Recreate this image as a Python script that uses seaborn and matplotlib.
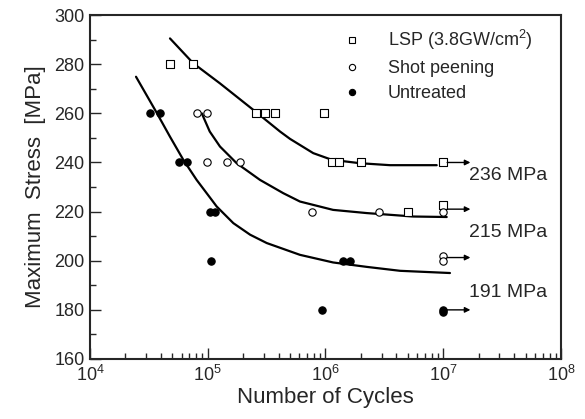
import numpy as np
import pandas as pd
import seaborn as sns
import matplotlib.pyplot as plt
from matplotlib.lines import Line2D
from matplotlib.ticker import LogLocator, MultipleLocator

# measured fatigue data (cycles, stress in MPa)
lsp_cycles = [4.8e4, 7.5e4, 2.55e5, 3.06e5, 3.72e5, 9.8e5, 1.13e6, 1.29e6, 2.0e6, 1e7, 5.05e6, 1e7]
lsp_stress = [280, 280, 260, 260, 260, 260, 240, 240, 240, 240, 220, 222.5]

shot_cycles = [8.1e4, 9.8e4, 9.8e4, 1.45e5, 1.88e5, 7.7e5, 2.85e6, 1e7, 1e7, 1e7]
shot_stress = [260, 260, 240, 240, 240, 220, 220, 220, 202, 200]

untr_cycles = [3.25e4, 3.93e4, 5.7e4, 6.7e4, 1.04e5, 1.15e5, 1.06e5, 1.42e6, 1.61e6, 9.3e5, 1e7, 1e7]
untr_stress = [260, 260, 240, 240, 220, 220, 200, 200, 200, 180, 180, 179]

# fitted S-N curves
lsp_fit_cycles = [4.78e4, 7.53e4, 1.27e5, 2.44e5, 4.11e5, 5.0e5, 7.87e5, 1.13e6, 1.96e6,
                  3.53e6, 8.8e6]
lsp_fit_stress = [290.5, 280.4, 272.2, 261.4, 252.6, 249.6, 243.8, 241.1, 239.7,
                  238.9, 238.9]

shot_fit_cycles = [8.9e4, 1.04e5, 1.27e5, 1.76e5, 2.78e5, 4.38e5, 6.07e5, 1.16e6, 2.24e6,
                   5.57e6, 1.07e7]
shot_fit_stress = [260.0, 252.6, 246.5, 239.7, 232.9, 227.5, 224.1, 220.7, 219.4,
                   218.0, 217.8]

untr_fit_cycles = [2.46e4, 3.64e4, 4.78e4, 6.2e4, 8.05e4, 1.08e5, 1.19e5, 1.65e5, 2.29e5,
                   3.17e5, 6.07e5, 1.16e6, 2.24e6, 4.3e6, 1.14e7]
untr_fit_stress = [274.9, 260.7, 250.5, 241.1, 232.9, 224.8, 222.1, 215.3, 210.6,
                   207.2, 202.4, 199.3, 197.5, 195.9, 195.0]

# run-outs at 1e7 cycles (arrows) and endurance limits
runout_stress = [240, 221, 201.3, 180]
limit_labels = ["236 MPa", "215 MPa", "191 MPa"]
limit_label_y = [234.7, 211.4, 187]

sns.set_style("ticks")
plt.rcParams.update({
    "font.family": ["Liberation Sans", "DejaVu Sans"],
    "mathtext.fontset": "custom",
    "mathtext.rm": "Liberation Sans",
    "mathtext.it": "Liberation Sans",
    "mathtext.bf": "Liberation Sans",
})

fig = plt.figure(figsize=(5.85, 4.19), dpi=100)
ax = fig.add_axes([0.1538, 0.1432, 0.8052, 0.8208])

points = [
    (lsp_cycles, lsp_stress, "s", "white"),
    (shot_cycles, shot_stress, "o", "white"),
    (untr_cycles, untr_stress, "o", "black"),
]
for xs, ys, m, fc in points:
    sns.scatterplot(x=xs, y=ys, marker=m, s=28, facecolor=fc, edgecolor="black",
                    linewidth=0.8, ax=ax, zorder=3)

for xs, ys in [(lsp_fit_cycles, lsp_fit_stress),
               (shot_fit_cycles, shot_fit_stress),
               (untr_fit_cycles, untr_fit_stress)]:
    df = pd.DataFrame({"n": xs, "s": ys})
    sns.lineplot(data=df, x="n", y="s", color="black", linewidth=1.6, sort=False,
                 estimator=None, ax=ax, zorder=2)

for s in runout_stress:
    ax.annotate("", xy=(1.7e7, s), xytext=(1.08e7, s),
                arrowprops=dict(arrowstyle="-|>", color="black", lw=1.0,
                                mutation_scale=8, shrinkA=0, shrinkB=0))

for lab, y in zip(limit_labels, limit_label_y):
    ax.text(1.66e7, y, lab, fontsize=14, va="center", ha="left")

ax.set_xscale("log")
ax.set_xlim(1e4, 1e8)
ax.set_ylim(160, 300)
ax.yaxis.set_major_locator(MultipleLocator(20))
ax.yaxis.set_minor_locator(MultipleLocator(10))
ax.xaxis.set_major_locator(LogLocator(base=10, numticks=10))
ax.xaxis.set_minor_locator(LogLocator(base=10, subs=np.arange(2, 10), numticks=20))

ax.tick_params(which="both", direction="in", top=False, right=False, width=1.0,
               labelsize=13, pad=4)
ax.tick_params(which="major", length=8)
ax.tick_params(which="minor", length=4.5)
for sp in ax.spines.values():
    sp.set_linewidth(1.5)

ax.set_xlabel("Number of Cycles", fontsize=16, labelpad=2)
ax.set_ylabel("Maximum  Stress  [MPa]", fontsize=16, labelpad=6)

handles = [
    Line2D([], [], marker="s", ls="none", mfc="white", mec="black", ms=4.5, mew=0.8),
    Line2D([], [], marker="o", ls="none", mfc="white", mec="black", ms=4.5, mew=0.8),
    Line2D([], [], marker="o", ls="none", mfc="black", mec="black", ms=4.5, mew=0.8),
]
ax.legend(handles, ["LSP (3.8GW/cm$^2$)", "Shot peening", "Untreated"],
          loc="upper left", bbox_to_anchor=(0.51, 1.0), frameon=False,
          fontsize=13, handlelength=1.0, handletextpad=1.5, labelspacing=0.45,
          borderaxespad=0.3)

fig.savefig("out.png", dpi=100, facecolor="white")
